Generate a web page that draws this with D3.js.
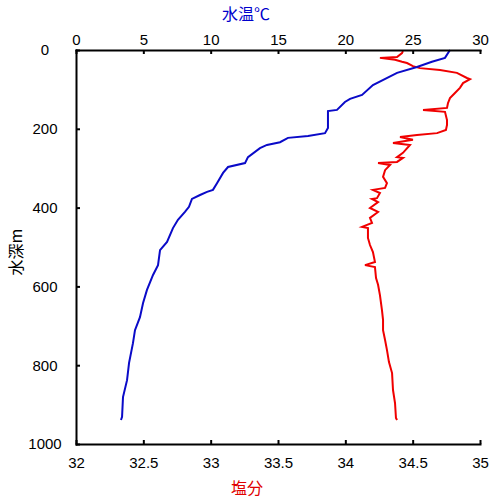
<!DOCTYPE html>
<html>
<head>
<meta charset="utf-8">
<script src="https://cdn.jsdelivr.net/npm/d3@7"></script>
<style>
	body { margin: 0; background: #fff; }
	.axis text { font-family: "Liberation Sans", Arial, sans-serif; font-size: 15px; fill: #000; }
	.axis path, .axis line { stroke: #000; stroke-width: 2; }
</style>
</head>
<body>
<svg id="chart" width="500" height="500"></svg>
<script>
// depth (m) and temperature (°C)
const tempDepth = [0, 20, 30, 43, 58, 89, 114, 124, 132, 152, 155, 198, 211, 218, 223, 234, 241, 249, 272, 287, 297, 312, 338, 355, 360, 368, 378, 398, 411, 431, 452, 487, 508, 546, 571, 609, 642, 678, 711, 744, 794, 838, 881, 931, 939];
const tempValues = [27.77, 27.4, 26.43, 25.32, 23.84, 22.05, 21.24, 20.35, 19.97, 19.38, 18.71, 18.71, 18.49, 17.23, 15.74, 15.15, 14.18, 13.66, 12.77, 12.55, 11.29, 10.92, 10.47, 10.17, 9.73, 9.21, 8.61, 8.39, 8.09, 7.57, 7.2, 6.76, 6.24, 6.09, 5.72, 5.27, 4.98, 4.75, 4.38, 4.23, 3.94, 3.79, 3.49, 3.42, 3.34];

// depth (m) and salinity
const salDepth = [3, 8, 18, 20, 25, 30, 33, 41, 46, 51, 58, 71, 74, 84, 96, 109, 122, 135, 147, 152, 157, 178, 190, 203, 211, 216, 221, 228, 236, 241, 261, 272, 274, 284, 287, 292, 305, 322, 338, 350, 355, 363, 376, 378, 386, 401, 411, 426, 439, 449, 452, 477, 495, 513, 538, 546, 551, 579, 596, 622, 660, 685, 711, 736, 761, 792, 820, 863, 896, 934, 939];
const salValues = [34.428, 34.421, 34.384, 34.257, 34.369, 34.421, 34.458, 34.502, 34.554, 34.703, 34.829, 34.903, 34.926, 34.874, 34.851, 34.814, 34.777, 34.762, 34.755, 34.577, 34.74, 34.755, 34.755, 34.747, 34.681, 34.532, 34.406, 34.502, 34.354, 34.48, 34.428, 34.384, 34.428, 34.384, 34.243, 34.332, 34.295, 34.28, 34.309, 34.295, 34.205, 34.257, 34.235, 34.198, 34.243, 34.183, 34.243, 34.183, 34.198, 34.124, 34.168, 34.168, 34.183, 34.205, 34.22, 34.146, 34.22, 34.228, 34.243, 34.257, 34.272, 34.28, 34.28, 34.295, 34.309, 34.324, 34.347, 34.354, 34.369, 34.376, 34.384];

const depthTicks = [0, 200, 400, 600, 800, 1000];
const tempTicks = [0, 5, 10, 15, 20, 25, 30];
const salTicks = [32, 32.5, 33, 33.5, 34, 34.5, 35];

var svg = d3.select('#chart');

var plotLeft = 76, plotRight = 480, plotTop = 50, plotBottom = 444;

var y = d3.scaleLinear().domain([0, 1000]).range([plotTop, plotBottom]);
var xT = d3.scaleLinear().domain([0, 30]).range([plotLeft, plotRight]);
var xS = d3.scaleLinear().domain([32, 35]).range([plotLeft, plotRight]);

// lines
var tempLine = d3.line()
	.x(i => xT(tempValues[i]))
	.y(i => y(tempDepth[i]));
var salLine = d3.line()
	.x(i => xS(salValues[i]))
	.y(i => y(salDepth[i]));

svg.append('path')
	.attr('d', salLine(d3.range(salValues.length)))
	.attr('fill', 'none')
	.attr('stroke', '#f00000')
	.attr('stroke-width', 2);

svg.append('path')
	.attr('d', tempLine(d3.range(tempValues.length)))
	.attr('fill', 'none')
	.attr('stroke', '#0a0ac8')
	.attr('stroke-width', 2);

// axes
var leftAxis = svg.append('g')
	.attr('class', 'axis')
	.attr('transform', `translate(${plotLeft},0)`)
	.call(d3.axisLeft(y).tickValues(depthTicks).tickSize(-4).tickSizeOuter(0).tickPadding(31).tickFormat(d3.format('d')));
leftAxis.selectAll('text').attr('text-anchor', 'middle');

svg.append('g')
	.attr('class', 'axis')
	.attr('transform', `translate(0,${plotTop})`)
	.call(d3.axisTop(xT).tickValues(tempTicks).tickSize(-4).tickSizeOuter(0).tickPadding(5).tickFormat(d3.format('d')));

svg.append('g')
	.attr('class', 'axis')
	.attr('transform', `translate(0,${plotBottom})`)
	.call(d3.axisBottom(xS).tickValues(salTicks).tickSize(-4).tickSizeOuter(0).tickPadding(13).tickFormat(d => String(d)));

svg.selectAll('.axis .domain').attr('stroke-linecap', 'square');

// titles
var titleFont = '"Noto Sans CJK JP", "Noto Sans CJK SC", sans-serif';
svg.append('text')
	.attr('x', 246).attr('y', 20)
	.attr('text-anchor', 'middle')
	.style('font-family', titleFont).style('font-size', '16px')
	.attr('fill', '#0000cc')
	.text('水温℃');

svg.append('text')
	.attr('x', 247).attr('y', 494)
	.attr('text-anchor', 'middle')
	.style('font-family', titleFont).style('font-size', '16px')
	.attr('fill', '#e00000')
	.text('塩分');

svg.append('text')
	.attr('transform', 'translate(22,252) rotate(-90)')
	.attr('text-anchor', 'middle')
	.style('font-family', titleFont).style('font-size', '16px')
	.attr('fill', '#000')
	.text('水深m');
</script>
</body>
</html>
